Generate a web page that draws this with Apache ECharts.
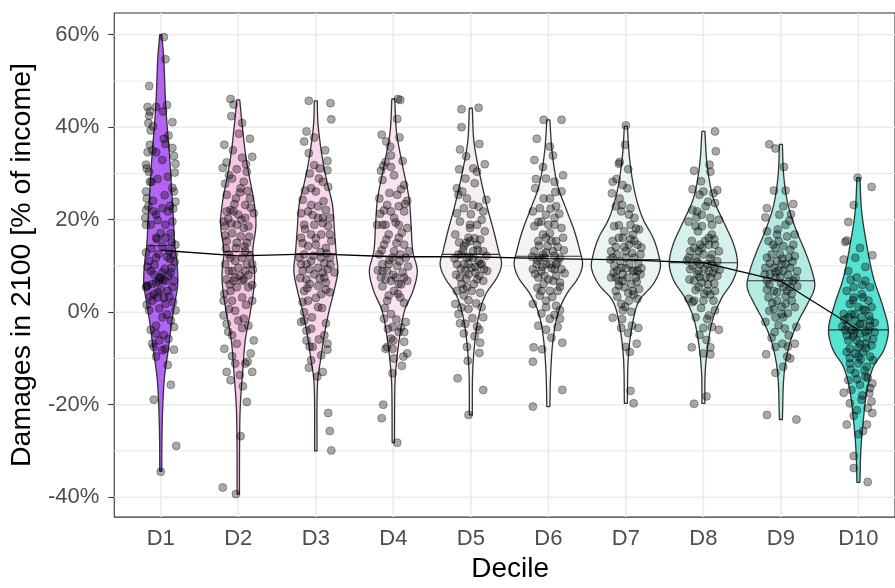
<!DOCTYPE html>
<html><head><meta charset="utf-8">
<script src="https://cdn.jsdelivr.net/npm/echarts@6/dist/echarts.min.js"></script>
<style>html,body{margin:0;padding:0;background:#fff}#c{width:895px;height:588px}</style>
</head><body><div id="c"></div>
<script>
// ---------------- data ----------------
const deciles = ['D1','D2','D3','D4','D5','D6','D7','D8','D9','D10'];
const yTicks = [-40,-20,0,20,40,60];
const yMinor = [-30,-10,10,30,50];
const medians = [14.4, 13.1, 12.6, 12.1, 12.5, 12.1, 11.4, 10.7, 6.8, -3.8];
const trend   = [13.4, 12.2, 12.6, 12.0, 12.0, 11.6, 11.3, 10.7, 6.7, -3.8];

// violin outlines: value levels (%) and half-widths (x-axis units)
const violinY_D1 = [60, 54.7, 44.6, 33.2, 26.1, 19.6, 14.6, 10.4, 6.1, 2.5, -2.5, -8.2, -13.9, -20.3, -27.5, -34.4];
const violinW_D1 = [0.013, 0.039, 0.064, 0.116, 0.142, 0.165, 0.180, 0.210, 0.219, 0.187, 0.139, 0.096, 0.049, 0.026, 0.015, 0.013];
const violinY_D2 = [45.9, 40.4, 34.6, 29.6, 23.9, 18.9, 13.2, 8.2, 4.6, -0.4, -6.1, -13.2, -20.3, -27.5, -39.3];
const violinW_D2 = [0.019, 0.051, 0.090, 0.139, 0.203, 0.228, 0.187, 0.210, 0.197, 0.151, 0.090, 0.055, 0.026, 0.017, 0.015];
const violinY_D3 = [45.7, 40.4, 33.2, 28.2, 23.2, 17.5, 12.5, 8.9, 4.6, 0.3, -4.7, -9.6, -15.4, -30];
const violinW_D3 = [0.019, 0.030, 0.086, 0.145, 0.215, 0.241, 0.264, 0.283, 0.236, 0.171, 0.112, 0.068, 0.022, 0.015];
const violinY_D4 = [46.1, 38.9, 31.8, 24.6, 18.9, 13.2, 8.9, 4.6, 0.3, -6.1, -12.5, -16.8, -28.2];
const violinW_D4 = [0.019, 0.042, 0.118, 0.203, 0.229, 0.251, 0.309, 0.253, 0.144, 0.075, 0.032, 0.019, 0.015];
const violinY_D5 = [44.1, 36.8, 29.6, 22.5, 17.5, 13.2, 10.4, 7.5, 3.9, -0.4, -6.1, -13.2, -22.2];
const violinW_D5 = [0.019, 0.041, 0.118, 0.215, 0.296, 0.358, 0.396, 0.337, 0.193, 0.107, 0.054, 0.023, 0.019];
const violinY_D6 = [41.6, 34.6, 27.5, 21.8, 17.5, 13.2, 10.4, 7.5, 3.9, -0.4, -6.1, -13.2, -20.4];
const violinW_D6 = [0.019, 0.049, 0.118, 0.241, 0.337, 0.408, 0.441, 0.386, 0.235, 0.122, 0.060, 0.030, 0.019];
const violinY_D7 = [40.2, 33.2, 26.1, 20.4, 16.1, 12.5, 9.6, 6.1, 2.5, -2.5, -9.6, -19.7];
const violinW_D7 = [0.019, 0.048, 0.113, 0.215, 0.351, 0.421, 0.444, 0.354, 0.171, 0.086, 0.032, 0.019];
const violinY_D8 = [39.1, 31.8, 24.6, 18.9, 14.6, 10.4, 6.8, 3.2, -1.1, -6.8, -13.2, -19.7];
const violinW_D8 = [0.019, 0.049, 0.129, 0.279, 0.392, 0.440, 0.380, 0.241, 0.129, 0.060, 0.023, 0.019];
const violinY_D9 = [36.3, 29.6, 23.2, 17.5, 13.2, 8.9, 5.4, 1.8, -1.8, -6.8, -13.2, -23.2];
const violinW_D9 = [0.019, 0.036, 0.093, 0.203, 0.311, 0.401, 0.435, 0.343, 0.229, 0.113, 0.042, 0.019];
const violinY_D10 = [29.1, 21.8, 14.6, 7.5, 1.1, -3.9, -8.2, -11.8, -16.8, -23.9, -29.7, -36.8];
const violinW_D10 = [0.019, 0.042, 0.107, 0.193, 0.318, 0.386, 0.326, 0.193, 0.112, 0.060, 0.032, 0.019];

// jittered observations: [x jitter (units), damage %]
const points_D1 = [[.04,59.5],[.06,54.7],[-.15,48.9],[-.17,44.4],[-.14,43.4],[-.06,44.4],[-.15,42.5],[-.16,40.9],[-.13,39.3],[.15,41.1],[.03,43.4],[-.14,36.2],[-.17,34.6],[.15,35.5],[.04,37.5],[.06,36.4],[.17,33.8],[-.19,31.9],[-.18,31.1],[.19,32.1],[.18,30.2],[-.11,35.0],[-.06,34.6],[-.04,28.8],[-.14,28.2],[.09,29.3],[.15,26.9],[-.19,26.1],[-.18,24.6],[.17,26.1],[.19,23.9],[-.16,22.9],[-.19,22.1],[-.09,21.8],[.02,22.5],[.16,22.4],[-.20,20.4],[-.19,18.9],[-.13,18.9],[0,17.1],[.06,16.1],[.13,17.1],[.09,21.8],[-.06,21.1],[-.19,12.9],[-.15,11.1],[-.06,11.8],[.02,14.3],[.11,13.2],[.17,12.5],[.19,14.6],[-.13,8.9],[-.09,8.2],[-.02,6.8],[0,7.5],[.06,6.8],[.13,8.6],[.15,5.4],[.17,6.8],[-.19,5.4],[-.17,5.7],[-.04,4.3],[.09,4.6],[.02,8.6],[-.11,2.5],[-.15,0.4],[-.04,3.2],[.06,1.8],[.19,0.4],[.13,-1.8],[.17,-3.2],[-.06,-2.9],[.02,-1.1],[-.06,-4.6],[-.02,-6.1],[-.11,-6.8],[-.09,-7.5],[.02,-8.2],[.06,-7.9],[-.06,-9.6],[.17,-8.1],[.09,-11.4],[.13,-15.7],[-.09,-18.9],[.20,-28.9],[0,-34.5],[-.18,5.7],[-.02,7.4],[.03,6.9],[-.06,6.4],[.10,7.9],[-.11,6.1],[.14,9.6],[-.14,3.4],[.04,3.1],[-.06,16.1],[.06,18.9],[-.12,28.2],
  [-.08,10.2],[.05,9.4],[.12,11.5],[-.17,9.8],[.18,10.9],[-.03,12.6],[.08,12.0],[-.12,13.8],[.00,4.9],[-.09,3.9],[.11,3.4],[.16,2.2],[-.18,1.6],[-.02,0.8],[.08,-0.5],[-.13,-3.8],[.04,-4.9],[.10,-5.8],[-.05,15.8],[.15,19.6],[-.10,24.1],[.05,25.3],[.12,23.0],[-.15,30.3],[.02,32.9],[.10,38.2],[-.10,40.2],[.08,44.8],[-.04,19.9],[.14,15.2]];
const points_D2 = [[-.10,46.1],[-.06,44.9],[-.09,42.4],[.05,40.9],[-.18,36.2],[.15,37.5],[.05,33.4],[-.15,32.4],[.18,33.6],[-.20,31.2],[-.02,30.9],[.11,30.4],[-.08,28.9],[.07,28.2],[.03,26.8],[-.15,25.4],[.15,24.6],[-.03,24.6],[.09,23.2],[-.10,22.1],[-.15,21.8],[0,21.1],[.20,21.4],[-.19,19.6],[-.17,18.6],[.07,18.2],[.13,18.6],[-.08,17.1],[.03,16.4],[-.02,15.0],[.11,15.0],[-.15,15.4],[.09,13.2],[-.12,12.5],[-.04,11.1],[.05,11.8],[.15,12.1],[-.17,10.4],[-.08,8.9],[0,9.6],[.09,8.9],[.18,10.4],[-.15,7.1],[-.06,6.8],[.07,7.1],[.13,5.4],[-.02,5.4],[-.10,4.6],[-.19,2.5],[-.08,2.5],[.05,3.2],[.18,2.5],[-.19,-0.7],[-.12,0.7],[0,-1.8],[.07,-1.4],[.13,-2.9],[-.15,-2.5],[-.08,-5.0],[-.02,-6.8],[.20,-6.1],[-.18,-7.9],[-.04,-11.1],[.09,-11.1],[.12,-10.7],[-.15,-12.9],[-.10,-14.7],[.02,-13.6],[.18,-12.9],[.11,-19.4],[.03,-26.8],[-.20,-37.9],[-.03,-39.3],[-.06,21.8],[.09,20.4],[-.10,11.8],[.11,10.4],[-.04,7.5],[.05,6.8],[-.12,8.9],[-.02,18.9],
  [-.13,20.2],[.04,20.0],[.16,22.6],[-.05,23.4],[.12,26.2],[-.17,27.8],[.02,25.9],[-.09,19.2],[.14,16.3],[-.03,13.9],[.08,14.2],[-.16,13.8],[.19,9.2],[-.11,6.0],[.02,7.9],[.13,8.0],[-.18,4.0],[.10,1.6],[-.04,0.3],[-.13,-4.2],[.05,-3.4],[.16,-8.9],[-.08,-9.5],[.06,-16.0],[-.07,35.0],[.10,32.0],[-.12,29.6],[.01,38.6],[-.17,16.6],[.18,5.9]];
const points_D3 = [[-.09,45.7],[.19,45.2],[.20,41.7],[-.12,39.1],[-.15,36.9],[-.09,34.4],[.15,32.7],[.15,30.7],[-.02,31.8],[.05,31.1],[.16,27.1],[-.17,24.3],[-.06,26.8],[0,26.1],[.09,28.2],[-.19,21.4],[-.10,21.8],[.03,22.9],[.13,22.1],[.09,19.3],[.18,20.4],[-.15,18.9],[-.06,16.8],[.07,16.8],[.18,16.8],[-.19,16.1],[-.10,14.3],[0,14.6],[.13,13.9],[.20,15.4],[-.21,11.8],[-.15,12.5],[-.06,11.1],[.07,11.8],[.18,11.8],[-.17,8.9],[-.12,7.1],[-.02,8.2],[.09,8.6],[.15,9.3],[.24,8.6],[-.08,6.1],[.03,5.7],[.13,6.4],[-.15,4.6],[.07,3.9],[.18,4.3],[.03,1.1],[-.10,2.5],[-.15,0.0],[-.19,-2.1],[-.15,-1.8],[-.06,-3.6],[-.12,-6.1],[-.08,-7.4],[.11,-5.0],[.15,-6.8],[.15,-8.1],[-.04,-7.5],[.07,-9.3],[-.06,-10.4],[.02,-13.9],[.16,-21.8],[.18,-25.7],[.20,-29.9],[.03,20.4],[-.02,18.9],[-.19,10.4],[.03,9.6],[.11,7.5],[-.12,10.4],[.09,20.4],[-.06,23.2],
  [-.04,21.0],[.10,24.0],[-.14,26.3],[.04,28.9],[-.08,30.0],[.12,35.0],[-.02,37.8],[.16,18.6],[-.17,14.9],[.06,13.0],[-.03,12.2],[.11,10.6],[-.08,9.3],[.19,10.3],[-.20,7.4],[.05,7.3],[-.11,5.2],[.13,4.9],[.00,3.1],[-.17,2.2],[.08,0.9],[-.05,-1.1],[.13,-2.4],[-.12,-4.0],[.04,-5.9],[-.09,-12.0],[.09,-12.9],[-.14,18.0],[.00,16.0],[.14,12.7]];
const points_D4 = [[.06,46.1],[.09,45.9],[.05,41.8],[-.15,38.4],[-.09,36.9],[-.03,33.9],[-.10,32.5],[.12,32.7],[-.16,30.6],[-.03,31.4],[.14,27.5],[-.14,28.6],[.01,29.6],[.05,25.4],[.18,24.1],[-.18,24.6],[-.08,23.2],[.07,22.9],[-.14,18.9],[.01,20.4],[.14,21.8],[.18,18.2],[-.06,16.8],[.07,16.1],[-.12,14.6],[.14,14.6],[-.18,12.5],[-.01,11.8],[.09,12.5],[.20,13.2],[-.14,10.4],[-.08,8.9],[.05,10.0],[.14,7.5],[.18,6.8],[-.16,7.5],[-.03,6.8],[.07,6.1],[.01,4.6],[-.08,2.5],[.09,3.2],[-.12,-1.4],[-.03,-0.4],[.16,-2.1],[-.01,-3.2],[.07,-4.3],[.14,-4.3],[-.03,-5.7],[-.10,-7.9],[-.01,-7.9],[.14,-6.4],[.18,-8.9],[.01,-10.0],[.13,-9.6],[-.01,-13.2],[-.13,-20.0],[-.15,-22.9],[.05,-28.2],[-.08,-7.5],[.01,13.2],[-.21,18.9],[-.14,8.9],[.12,8.6],[.03,7.5],[-.06,10.4],[.16,11.8],[-.10,18.9],[.07,18.9],[-.03,21.8],
  [-.05,25.8],[.10,26.6],[-.12,22.0],[.15,23.4],[.03,19.4],[-.17,21.3],[.11,17.2],[-.09,15.7],[.04,14.9],[-.15,13.4],[.08,11.0],[-.05,11.3],[.19,9.9],[-.20,9.1],[-.10,7.1],[.00,8.1],[.10,6.0],[-.14,5.6],[.06,4.0],[-.06,3.6],[.14,2.0],[-.11,0.9],[.04,-1.6],[.10,-3.3],[-.07,-3.6],[.00,-6.1],[.11,-11.6],[-.04,35.8],[.08,37.8],[-.13,31.6]];
const points_D5 = [[-.12,43.9],[.10,44.2],[-.12,40.0],[.11,36.4],[-.14,35.2],[-.15,30.9],[.03,31.1],[.18,32.0],[-.07,28.9],[-.18,26.8],[-.16,25.4],[.08,30.4],[-.05,24.6],[.20,24.3],[.03,23.2],[-.18,21.4],[-.09,22.5],[.16,21.8],[-.01,18.9],[-.14,19.6],[.08,18.9],[-.20,16.8],[-.03,16.1],[.14,20.0],[.18,17.5],[-.09,14.3],[.03,13.2],[.16,13.2],[-.16,12.5],[-.05,11.8],[.10,11.1],[-.18,10.4],[-.09,10.4],[.01,9.6],[.14,10.4],[.21,8.9],[-.14,7.5],[-.03,8.2],[.08,7.1],[.16,6.8],[-.18,4.6],[-.05,5.4],[.01,4.6],[-.09,3.6],[-.20,1.8],[-.16,-0.4],[-.03,0.7],[.14,1.1],[.16,-1.1],[-.14,-2.4],[.08,-3.1],[-.09,-4.6],[.11,-3.8],[.12,-6.6],[-.05,-7.5],[.11,-8.8],[-.17,-14.3],[.16,-16.8],[-.03,-22.2],[-.01,18.2],[.03,11.8],[.12,10.4],[-.07,8.9],[.06,8.6],[-.12,12.5],[-.01,15.4],[.08,14.6],[-.12,6.1],[-.03,10.4],
  [-.06,15.0],[.05,16.0],[.12,15.7],[-.15,15.1],[.20,12.2],[-.21,11.6],[-.10,13.4],[.09,13.4],[-.02,12.0],[.06,9.8],[-.13,9.4],[.17,9.3],[-.19,8.1],[-.06,7.2],[.11,7.9],[.04,6.1],[-.10,5.0],[.12,4.2],[-.03,2.6],[.07,1.9],[-.12,1.0],[.02,-1.3],[-.07,-2.5],[.05,-5.2],[-.04,-10.5],[.00,21.2],[.10,22.8],[-.11,26.1],[.05,27.9],[-.06,33.7]];
const points_D6 = [[-.06,41.6],[.17,41.6],[-.15,37.5],[.06,33.9],[-.18,32.9],[.19,29.6],[-.16,28.8],[-.03,28.9],[.08,28.2],[.17,26.1],[-.17,26.8],[.02,24.6],[-.06,24.6],[-.11,22.5],[.10,22.9],[-.20,21.8],[-.03,21.1],[.08,18.9],[.17,18.2],[-.18,18.6],[-.07,16.8],[.02,17.1],[-.13,15.4],[.10,15.4],[.19,16.1],[-.18,13.2],[-.07,12.5],[.06,13.2],[.15,11.8],[-.11,11.8],[-.20,9.3],[-.03,10.4],[.08,9.3],[.17,9.3],[-.13,7.5],[-.05,7.9],[.06,6.8],[.15,6.4],[-.09,4.6],[.02,4.6],[.12,4.6],[-.20,1.8],[-.11,3.6],[-.03,1.1],[.10,1.4],[.15,0.4],[-.13,-2.9],[-.03,-3.8],[.12,-3.2],[.15,-1.4],[.02,-1.4],[-.19,-7.6],[-.20,-10.7],[.18,-6.6],[.18,-16.8],[-.20,-20.4],[-.03,16.1],[.04,15.4],[-.05,11.8],[.02,10.4],[-.15,10.4],[.10,10.4],[0,18.9],[-.09,19.6],[.08,20.4],[-.09,8.9],
  [-.01,14.3],[.12,14.1],[-.12,14.4],[.20,13.4],[-.21,12.0],[-.03,12.9],[.08,12.2],[-.14,11.2],[.12,10.9],[.04,9.5],[-.08,9.8],[.21,8.4],[-.17,8.3],[.00,7.1],[.10,7.9],[-.06,6.1],[.15,5.5],[-.14,5.3],[.05,3.3],[-.03,2.5],[.08,-0.6],[-.09,-0.3],[.04,-5.5],[-.08,-8.0],[.14,21.3],[-.13,19.5],[.03,22.4],[.09,26.0],[-.07,31.4],[.02,35.8]];
const points_D7 = [[0,40.4],[-.01,36.2],[-.09,32.1],[-.08,32.5],[-.17,28.2],[-.18,25.7],[-.04,27.5],[.02,26.8],[-.08,24.6],[-.13,22.9],[.04,21.1],[-.06,21.8],[-.15,18.6],[.11,20.4],[-.02,17.5],[.09,16.8],[.17,17.9],[-.09,16.1],[.04,14.6],[.15,14.6],[-.17,15.4],[-.19,13.2],[-.11,12.5],[0,13.2],[.11,11.8],[.19,12.5],[-.15,10.0],[-.06,9.6],[.04,10.4],[.15,8.9],[-.19,7.5],[-.09,6.8],[.02,7.5],[.13,7.5],[.19,8.2],[-.13,4.6],[-.02,5.4],[.09,4.6],[.17,5.0],[-.06,1.8],[.04,2.5],[.15,2.9],[-.17,-1.2],[-.04,0.4],[-.06,-3.4],[.08,-2.9],[.16,-3.4],[0,-7.5],[.14,-6.8],[.05,-8.6],[.06,-17.0],[.10,-19.7],[.11,15.4],[0,11.8],[-.17,11.8],[.09,8.9],[-.04,16.1],[-.13,7.5],[.06,18.9],[-.04,8.2],
  [-.13,14.1],[.06,15.8],[.20,14.0],[-.02,14.1],[-.20,11.4],[-.07,11.0],[.08,12.8],[.16,10.5],[-.11,9.1],[.00,9.5],[.10,9.0],[.20,9.5],[-.16,8.5],[-.04,6.8],[.07,6.1],[.14,6.6],[-.09,5.8],[.03,4.2],[-.11,3.4],[.10,3.8],[-.01,1.2],[.07,0.1],[-.05,-1.5],[.03,-4.5],[-.09,18.8],[.13,18.1],[-.05,23.2],[.06,22.5],[-.12,28.8],[.03,30.9]];
const points_D8 = [[.15,39.1],[.16,34.8],[-.12,30.6],[.09,30.4],[-.14,26.6],[0,26.1],[.13,25.7],[.18,26.4],[-.05,25.4],[-.14,22.1],[.03,22.9],[-.08,21.8],[.15,23.6],[-.19,19.6],[-.02,21.1],[.09,20.4],[.20,20.0],[-.10,18.6],[-.02,18.6],[.11,18.9],[-.15,15.4],[-.04,14.6],[.07,16.1],[.15,14.6],[-.19,11.8],[-.10,11.8],[0,12.5],[.11,12.5],[.20,13.2],[-.17,9.3],[-.06,8.9],[.07,8.9],[.15,9.6],[-.12,6.8],[-.02,6.4],[.09,7.5],[.18,7.9],[-.06,5.4],[.05,4.6],[.15,4.6],[-.12,2.5],[0,2.5],[.13,2.5],[-.19,2.9],[-.10,-1.1],[.07,-0.7],[.15,0.4],[.11,-3.2],[.20,-3.8],[0,-3.4],[-.15,-7.6],[.09,-7.6],[.09,-9.1],[0,-8.9],[.04,-18.2],[-.12,-19.8],[-.06,13.2],[-.17,13.2],[.05,10.4],[-.04,10.4],[.11,10.4],[-.08,8.2],[.03,7.5],[.07,14.6],
  [-.12,13.9],[.02,15.4],[.14,15.8],[-.02,13.9],[-.21,11.2],[-.08,10.9],[.09,11.6],[.18,11.0],[-.14,10.0],[.01,9.4],[.12,8.5],[.21,9.2],[-.18,7.1],[-.05,7.6],[.06,6.0],[.14,6.2],[-.10,4.8],[.01,4.0],[-.14,2.2],[.09,3.8],[-.03,0.9],[.05,-1.5],[-.05,-4.9],[.04,-6.0],[-.07,17.5],[.11,16.8],[-.09,20.5],[.06,23.9],[-.03,28.3],[.08,31.9]];
const points_D9 = [[-.15,36.3],[-.07,35.4],[.04,31.4],[-.09,26.3],[.06,26.3],[.16,23.4],[-.18,22.5],[.03,22.9],[-.20,20.5],[.13,21.2],[-.18,17.5],[-.05,16.8],[.06,18.9],[.18,16.8],[-.16,15.4],[-.07,13.9],[.03,14.3],[.16,14.6],[-.18,11.8],[-.12,12.5],[-.01,12.5],[.10,11.8],[.18,12.1],[-.20,9.6],[-.09,9.6],[.01,10.4],[.12,9.6],[.21,8.9],[-.18,6.8],[-.07,7.5],[.08,4.6],[.03,5.4],[.16,6.8],[-.16,3.2],[-.05,2.5],[.06,1.8],[.14,2.5],[-.09,0.7],[.01,-0.4],[.18,1.1],[-.20,-2.1],[-.07,-1.1],[.03,-1.1],[.20,-3.2],[-.12,-5.5],[.10,-5.0],[-.07,-7.5],[.09,-7.4],[.18,-6.8],[-.19,-9.1],[.08,-9.6],[.12,-10.0],[-.07,-13.1],[.03,-11.8],[-.18,-22.2],[.20,-23.2],[-.05,11.1],[.06,10.4],[-.14,8.2],[-.01,7.5],[.12,5.4],[-.09,4.6],[.03,8.9],[-.03,15.4],
  [-.14,10.6],[.02,11.6],[.15,10.9],[-.03,9.0],[-.21,8.2],[-.07,8.7],[.09,8.1],[.19,7.4],[-.15,6.0],[.00,6.3],[.10,6.6],[.21,5.6],[-.18,4.9],[-.05,4.3],[.06,3.5],[.14,4.0],[-.11,2.0],[.01,1.2],[-.15,0.3],[.09,-0.2],[-.03,-2.8],[.05,-3.5],[-.08,-4.3],[.02,-6.8],[-.10,14.6],[.12,13.5],[-.04,17.9],[.08,16.4],[-.02,21.1],[.11,19.8]];
const points_D10 = [[-.01,29.1],[.17,27.1],[-.06,23.2],[-.13,19.5],[-.15,15.5],[-.17,15.2],[.02,13.9],[.18,12.3],[-.19,11.4],[-.13,8.9],[-.02,7.5],[.09,6.8],[.15,5.4],[-.15,4.6],[-.06,5.4],[.04,3.9],[.13,2.5],[-.11,1.8],[0,1.1],[.09,0.4],[.17,1.1],[-.19,-0.4],[-.13,-1.1],[-.04,-1.8],[.06,-2.5],[.15,-1.8],[-.17,-3.9],[-.09,-3.9],[.02,-4.6],[.13,-3.9],[.21,-4.3],[-.13,-6.1],[-.02,-6.1],[.09,-6.8],[.17,-7.2],[-.15,-8.6],[-.04,-8.9],[.06,-8.6],[.15,-9.6],[-.11,-11.1],[0,-11.1],[.11,-11.8],[.19,-10.4],[-.04,-13.2],[.09,-13.9],[-.13,-14.7],[.02,-15.7],[.18,-15.4],[-.19,-17.4],[-.09,-16.8],[.15,-16.4],[.14,-17.5],[.04,-18.9],[.17,-19.3],[-.11,-19.7],[-.02,-21.2],[.18,-21.8],[-.15,-24.3],[.11,-24.3],[.06,-25.7],[0,-26.4],[-.06,-31.1],[-.06,-33.7],[.12,-36.7],[0,-9.6],[-.09,-0.4],[.04,-1.1],[.11,-5.4],[-.06,-4.6],[-.11,-7.9],[.02,-6.8],[.06,3.2],[-.06,3.2],
  [-.14,-2.8],[.02,-2.6],[.15,-3.0],[-.03,-3.4],[-.21,-3.1],[-.07,-5.2],[.09,-4.2],[.19,-5.8],[-.15,-5.0],[.00,-7.7],[.10,-7.8],[.21,-2.3],[-.18,-1.6],[-.05,-0.5],[.06,0.6],[.14,-0.8],[-.11,-9.9],[.03,-10.2],[-.10,-12.4],[.08,-12.6],[-.02,-14.5],[.12,-14.2],[-.07,2.6],[.05,5.9],[-.10,7.0],[.09,9.8],[-.04,11.8],[.05,-18.0],[-.06,-22.4],[.12,-20.7]];

// ---------------- assembly ----------------
const violinYs = [violinY_D1,violinY_D2,violinY_D3,violinY_D4,violinY_D5,violinY_D6,violinY_D7,violinY_D8,violinY_D9,violinY_D10];
const violinWs = [violinW_D1,violinW_D2,violinW_D3,violinW_D4,violinW_D5,violinW_D6,violinW_D7,violinW_D8,violinW_D9,violinW_D10];
const pointSets = [points_D1,points_D2,points_D3,points_D4,points_D5,points_D6,points_D7,points_D8,points_D9,points_D10];
const fills = ['#B464F4','#F7C6E4','#F8D5EA','#F9E3F0','#F5EEF3','#F4F4F4','#EAF4F1','#D6F0EB','#B3EAE1','#55E2D3'];
const FONT = "'Liberation Sans', Arial, Helvetica, sans-serif";

function tangents(ys, ws){
  const n = ys.length, m = [];
  for (let i=0;i<n;i++){
    if (i===0) m.push((ws[1]-ws[0])/(ys[1]-ys[0]));
    else if (i===n-1) m.push((ws[n-1]-ws[n-2])/(ys[n-1]-ys[n-2]));
    else m.push((ws[i+1]-ws[i-1])/(ys[i+1]-ys[i-1]));
  }
  return m;
}
function sampleProfile(ys, ws){
  const m = tangents(ys, ws), out = [];
  const steps = 10;
  for (let i=0;i<ys.length-1;i++){
    const dy = ys[i+1]-ys[i];
    for (let s=0;s<steps;s++){
      const t=s/steps, t2=t*t, t3=t2*t;
      const h00=2*t3-3*t2+1, h10=t3-2*t2+t, h01=-2*t3+3*t2, h11=t3-t2;
      let w = h00*ws[i]+h10*dy*m[i]+h01*ws[i+1]+h11*dy*m[i+1];
      w = Math.max(w, Math.min(ws[i],ws[i+1])*0.6);
      out.push([ys[i]+dy*t, w]);
    }
  }
  out.push([ys[ys.length-1], ws[ws.length-1]]);
  return out;
}
function widthAt(ys, ws, y){
  const m = tangents(ys, ws);
  for (let i=0;i<ys.length-1;i++){
    if ((y<=ys[i] && y>=ys[i+1])){
      const dy = ys[i+1]-ys[i], t=(y-ys[i])/dy, t2=t*t, t3=t2*t;
      return (2*t3-3*t2+1)*ws[i]+(t3-2*t2+t)*dy*m[i]+(-2*t3+3*t2)*ws[i+1]+(t3-t2)*dy*m[i+1];
    }
  }
  return 0;
}

const gridData = [];
yTicks.forEach(v=>gridData.push([1, v, 0]));
yMinor.forEach(v=>gridData.push([1, v, 1]));
deciles.forEach((d,i)=>gridData.push([i+1, 0, 2]));

const scatterData = [];
pointSets.forEach((set,i)=>set.forEach(p=>scatterData.push([i+1+p[0], p[1]])));

const chart = echarts.init(document.getElementById('c'), null, {renderer:'canvas'});
chart.setOption({
  animation:false,
  backgroundColor:'#ffffff',
  textStyle:{fontFamily:FONT},
  grid:{left:114, right:-2, top:13, bottom:69, show:true, borderColor:'#333333', borderWidth:1.1, backgroundColor:'#ffffff', containLabel:false},
  xAxis:{type:'value', min:0.4, max:10.472,
    axisLine:{show:false}, splitLine:{show:false},
    axisTick:{show:true, length:6, customValues:[1,2,3,4,5,6,7,8,9,10], lineStyle:{color:'#333333', width:1.1}},
    axisLabel:{customValues:[1,2,3,4,5,6,7,8,9,10], formatter:v=>deciles[Math.round(v)-1], color:'#4D4D4D', fontSize:22, margin:11, fontFamily:FONT},
    name:'Decile', nameLocation:'middle', nameGap:36, nameTextStyle:{fontSize:28, color:'#000', fontFamily:FONT, padding:[0,0,0,11]}
  },
  yAxis:{type:'value', min:-44.3, max:64.7,
    axisLine:{show:false}, splitLine:{show:false},
    axisTick:{show:true, length:6, customValues:yTicks, lineStyle:{color:'#333333', width:1.1}},
    axisLabel:{customValues:yTicks, formatter:v=>v+'%', color:'#4D4D4D', fontSize:22, margin:15, fontFamily:FONT},
    name:'Damages in 2100 [% of income]', nameLocation:'middle', nameGap:76, nameTextStyle:{fontSize:28.5, color:'#000', fontFamily:FONT}
  },
  series:[
    {type:'custom', name:'grid', z:1, silent:true, data:gridData,
      renderItem:function(params, api){
        const cs = params.coordSys, kind = api.value(2);
        if (kind===2){
          const p = api.coord([api.value(0), 0]);
          return {type:'line', shape:{x1:p[0], y1:cs.y, x2:p[0], y2:cs.y+cs.height}, style:{stroke:'#EBEBEB', lineWidth:1.6}};
        }
        const p = api.coord([1, api.value(1)]);
        return {type:'line', shape:{x1:cs.x, y1:p[1], x2:cs.x+cs.width, y2:p[1]}, style:{stroke:'#EBEBEB', lineWidth: kind===0?1.6:1.2}};
      }},
    {type:'custom', name:'violins', z:2, silent:true, data:deciles.map((d,i)=>[i+1, medians[i]]),
      renderItem:function(params, api){
        const i = params.dataIndex, c = i+1;
        const prof = sampleProfile(violinYs[i], violinWs[i]);
        const pts = [];
        for (let k=0;k<prof.length;k++) pts.push(api.coord([c+prof[k][1], prof[k][0]]));
        for (let k=prof.length-1;k>=0;k--) pts.push(api.coord([c-prof[k][1], prof[k][0]]));
        const wm = widthAt(violinYs[i], violinWs[i], medians[i]);
        const a = api.coord([c-wm, medians[i]]), b = api.coord([c+wm, medians[i]]);
        return {type:'group', children:[
          {type:'polygon', shape:{points:pts}, style:{fill:fills[i], stroke:'#333333', lineWidth:1.3, lineJoin:'round'}},
          {type:'line', shape:{x1:a[0], y1:a[1], x2:b[0], y2:b[1]}, style:{stroke:'#333333', lineWidth:1.2}}
        ]};
      }},
    {type:'scatter', name:'obs', z:3, silent:true, data:scatterData, symbol:'circle', symbolSize:8,
      itemStyle:{color:'rgba(0,0,0,0.42)', borderColor:'rgba(0,0,0,0.5)', borderWidth:0.8}},
    {type:'line', name:'trend', z:4, silent:true, data:deciles.map((d,i)=>[i+1, trend[i]]), symbol:'none',
      lineStyle:{color:'#000000', width:1.3}}
  ]
});
</script></body></html>
